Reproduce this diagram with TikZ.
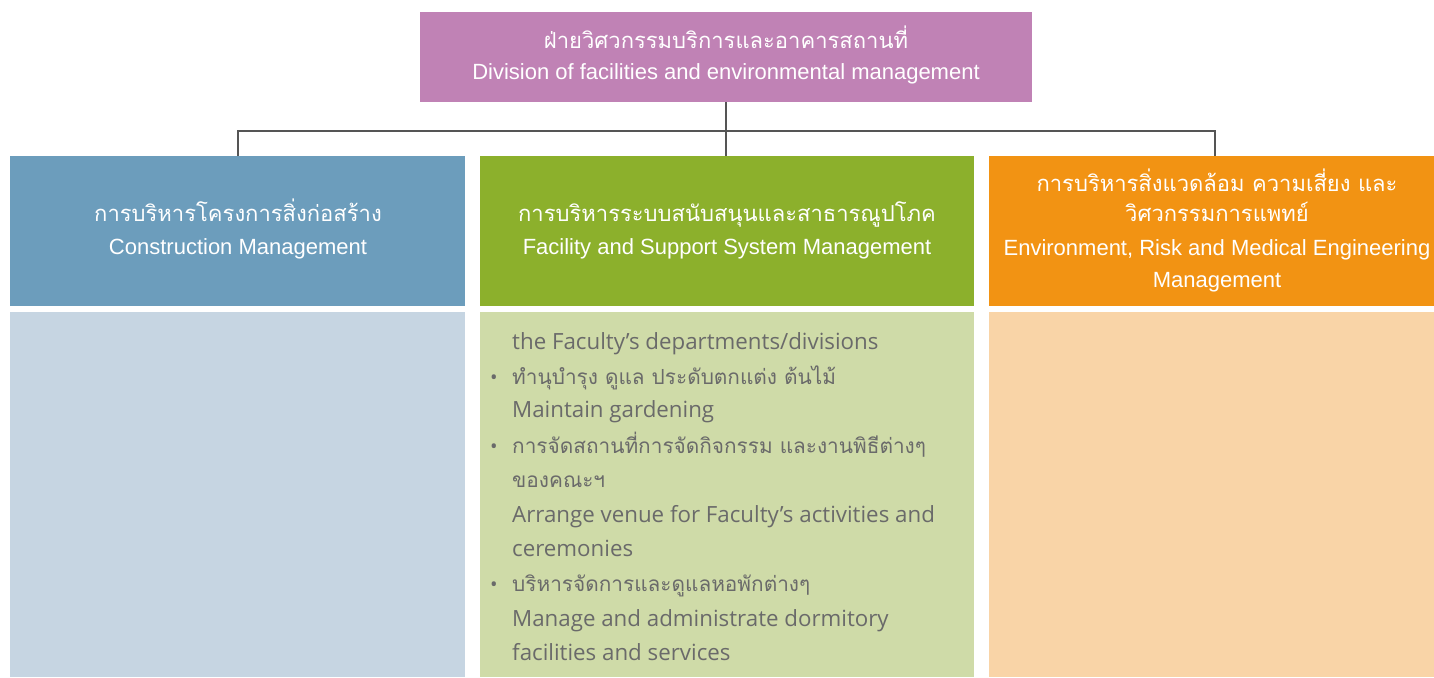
\documentclass[tikz,border=0pt]{standalone}
\usepackage{fontspec}
\setmainfont{Liberation Sans}
\newfontfamily\thaifont[Script=Thai]{Loma}
\newfontfamily\bodyfont{Open Sans}
\definecolor{topc}{HTML}{C082B5}
\definecolor{bluec}{HTML}{6C9DBC}
\definecolor{bluel}{HTML}{C6D5E2}
\definecolor{greenc}{HTML}{8CB02C}
\definecolor{greenl}{HTML}{CFDBA8}
\definecolor{orangec}{HTML}{F29313}
\definecolor{orangel}{HTML}{F9D4A7}
\definecolor{linec}{HTML}{555555}
\definecolor{bodyc}{HTML}{6A6A6A}
\tikzset{
  boxshape/.style={inner sep=0pt, outer sep=0pt, draw=none},
  hdrth/.style={text=white, font=\thaifont\fontsize{22}{26}\selectfont, inner sep=0pt, anchor=mid},
  hdren/.style={text=white, font=\fontsize{22}{26}\selectfont, inner sep=0pt, anchor=mid},
  bodyth/.style={text=bodyc, font=\thaifont\fontsize{20.8}{24}\selectfont, inner sep=0pt, anchor=mid west},
  bodyen/.style={text=bodyc, font=\bodyfont\fontsize{22.3}{26}\selectfont, inner sep=0pt, anchor=mid west},
  bul/.style={text=bodyc, font=\bodyfont\fontsize{20}{24}\selectfont, inner sep=0pt, anchor=mid},
  conn/.style={draw=linec, line width=1.6pt}
}
\begin{document}
\begin{tikzpicture}[x=1pt,y=-1pt]
\useasboundingbox (0,0) rectangle (1434,677);
% boxes
\fill[topc] (420,12) rectangle (1032,102);
\node[boxshape, minimum width=612pt, minimum height=90pt] (top) at (726,57) {};
\fill[bluec] (10,156) rectangle (465,306);
\node[boxshape, minimum width=455pt, minimum height=150pt] (left) at (237.5,231) {};
\fill[greenc] (480,156) rectangle (974,306);
\node[boxshape, minimum width=494pt, minimum height=150pt] (mid) at (727,231) {};
\fill[orangec] (989,156) rectangle (1434,306);
\node[boxshape, minimum width=445pt, minimum height=150pt] (right) at (1211.5,231) {};
\fill[bluel] (10,312) rectangle (465,677);
\fill[greenl] (480,312) rectangle (974,677);
\fill[orangel] (989,312) rectangle (1434,677);
% connectors
\coordinate (bus) at (726,131);
\draw[conn] (top.south) -- (726,156);
\draw[conn] (238,156) |- (bus) -| (1215,156);
% header texts
\node[hdrth] (t1) at (726,46) {ฝ่ายวิศวกรรมบริการและอาคารสถานที่};
\node[hdren] (t2) at (726,77) {Division of facilities and environmental management};
\node[hdrth] (l1) at (238,219) {การบริหารโครงการสิ่งก่อสร้าง};
\node[hdren] (l2) at (238,252) {Construction Management};
\node[hdrth] (m1) at (727,219) {การบริหารระบบสนับสนุนและสาธารณูปโภค};
\node[hdren] (m2) at (727,252) {Facility and Support System Management};
\node[hdrth] (r1) at (1217,189) {การบริหารสิ่งแวดล้อม ความเสี่ยง และ};
\node[hdrth] (r2) at (1217,219) {วิศวกรรมการแพทย์};
\node[hdren] (r3) at (1217,253) {Environment, Risk and Medical Engineering};
\node[hdren] (r4) at (1217,285) {Management};
% body texts
\node[bodyen] (b1) at (512,347) {the Faculty’s departments/divisions};
\node[bul] (u1) at (494,382) {•};
\node[bodyth] (b2) at (512,382) {ทำนุบำรุง ดูแล ประดับตกแต่ง ต้นไม้};
\node[bodyen] (b3) at (512,415) {Maintain gardening};
\node[bul] (u2) at (494,451) {•};
\node[bodyth] (b4) at (512,451) {การจัดสถานที่การจัดกิจกรรม และงานพิธีต่างๆ};
\node[bodyth] (b5) at (512,485) {ของคณะฯ};
\node[bodyen] (b6) at (512,520) {Arrange venue for Faculty’s activities and};
\node[bodyen] (b7) at (512,554) {ceremonies};
\node[bul] (u3) at (494,589) {•};
\node[bodyth] (b8) at (512,589) {บริหารจัดการและดูแลหอพักต่างๆ};
\node[bodyen] (b9) at (512,624) {Manage and administrate dormitory};
\node[bodyen] (b10) at (512,658) {facilities and services};
\end{tikzpicture}
\end{document}
